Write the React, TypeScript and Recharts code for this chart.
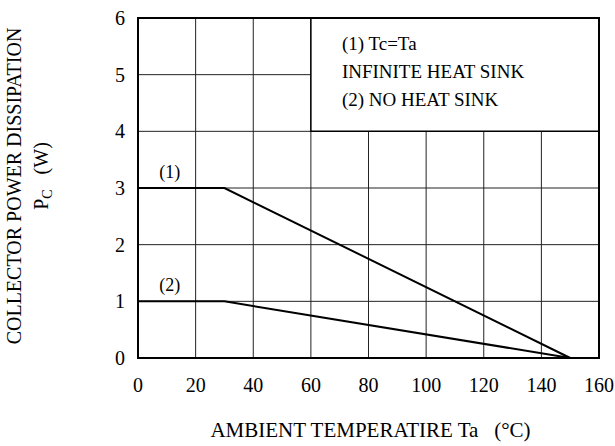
import React from 'react';
import {
  LineChart,
  Line,
  XAxis,
  YAxis,
  CartesianGrid,
  ReferenceArea,
  ReferenceDot,
} from 'recharts';

const temps = [0, 30, 150];
const curve1 = [3, 3, 0];
const curve2 = [1, 1, 0];
const xTicks = [0, 20, 40, 60, 80, 100, 120, 140, 160];
const yTicks = [0, 1, 2, 3, 4, 5, 6];
const legendLines = ['(1) Tc=Ta', 'INFINITE HEAT SINK', '(2) NO HEAT SINK'];

const data = temps.map((t, i) => ({ t, p1: curve1[i], p2: curve2[i] }));

const FONT = '"Liberation Serif", "Times New Roman", serif';

const YLabel = (props: any) => {
  const vb = props.viewBox || { x: 0, y: 0, width: 0, height: 0 };
  const cy = vb.y + vb.height / 2;
  const x1 = 21;
  const x2 = 48;
  return (
    <g fontFamily={FONT} fill="#000">
      <text
        x={x1}
        y={cy - 2}
        transform={`rotate(-90, ${x1}, ${cy - 2})`}
        textAnchor="middle"
        fontSize={20}
      >
        COLLECTOR POWER DISSIPATION
      </text>
      <text
        x={x2}
        y={cy - 12}
        transform={`rotate(-90, ${x2}, ${cy - 12})`}
        textAnchor="middle"
        fontSize={20}
      >
        <tspan>P</tspan>
        <tspan fontSize={14} dy={4}>C</tspan>
        <tspan dy={-4}>{'\u00a0\u00a0\u00a0(W)'}</tspan>
      </text>
    </g>
  );
};

const XLabel = (props: any) => {
  const vb = props.viewBox || { x: 0, y: 0, width: 0, height: 0 };
  return (
    <text
      x={vb.x + vb.width / 2 + 2}
      y={437}
      textAnchor="middle"
      fontFamily={FONT}
      fontSize={21}
      fill="#000"
    >
      {'AMBIENT TEMPERATIRE Ta\u00a0\u00a0\u00a0(\u00b0C)'}
    </text>
  );
};

const LegendText = (props: any) => {
  const vb = props.viewBox || { x: 0, y: 0, width: 0, height: 0 };
  return (
    <g fontFamily={FONT} fontSize={19} fill="#000">
      {legendLines.map((s, i) => (
        <text key={i} x={vb.x + 31} y={vb.y + 32 + i * 28}>
          {s}
        </text>
      ))}
    </g>
  );
};

export default function App() {
  return (
    <div style={{ position: 'absolute', left: 0, top: 0, background: '#fff' }}>
      <LineChart
        width={615}
        height={446}
        data={data}
        margin={{ top: 18, right: 16, bottom: 28, left: 78 }}
      >
        <CartesianGrid stroke="#222" strokeWidth={1} />
        <XAxis
          type="number"
          dataKey="t"
          domain={[0, 160]}
          ticks={xTicks}
          interval={0}
          axisLine={false}
          tickLine={false}
          tickSize={0}
          tickMargin={20}
          height={60}
          tick={{ fill: '#000', fontSize: 20, fontFamily: FONT }}
          label={<XLabel />}
        />
        <YAxis
          type="number"
          domain={[0, 6]}
          ticks={yTicks}
          interval={0}
          axisLine={false}
          tickLine={false}
          tickSize={0}
          tickMargin={13}
          width={60}
          tick={{ fill: '#000', fontSize: 20, fontFamily: FONT }}
          label={<YLabel />}
        />
        <ReferenceArea
          x1={60}
          x2={160}
          y1={4}
          y2={6}
          fill="#fff"
          fillOpacity={1}
          stroke="#000"
          strokeWidth={1.5}
          label={<LegendText />}
        />
        <ReferenceArea
          x1={0}
          x2={160}
          y1={0}
          y2={6}
          fill="none"
          fillOpacity={0}
          stroke="#000"
          strokeWidth={2}
        />
        <ReferenceDot
          x={11}
          y={3}
          r={0}
          fill="none"
          stroke="none"
          label={{ value: '(1)', position: 'top', offset: 10, fontSize: 18, fontFamily: FONT, fill: '#000' }}
        />
        <ReferenceDot
          x={11}
          y={1}
          r={0}
          fill="none"
          stroke="none"
          label={{ value: '(2)', position: 'top', offset: 10, fontSize: 18, fontFamily: FONT, fill: '#000' }}
        />
        <Line
          type="linear"
          dataKey="p1"
          stroke="#000"
          strokeWidth={2}
          dot={false}
          isAnimationActive={false}
        />
        <Line
          type="linear"
          dataKey="p2"
          stroke="#000"
          strokeWidth={2}
          dot={false}
          isAnimationActive={false}
        />
      </LineChart>
    </div>
  );
}
